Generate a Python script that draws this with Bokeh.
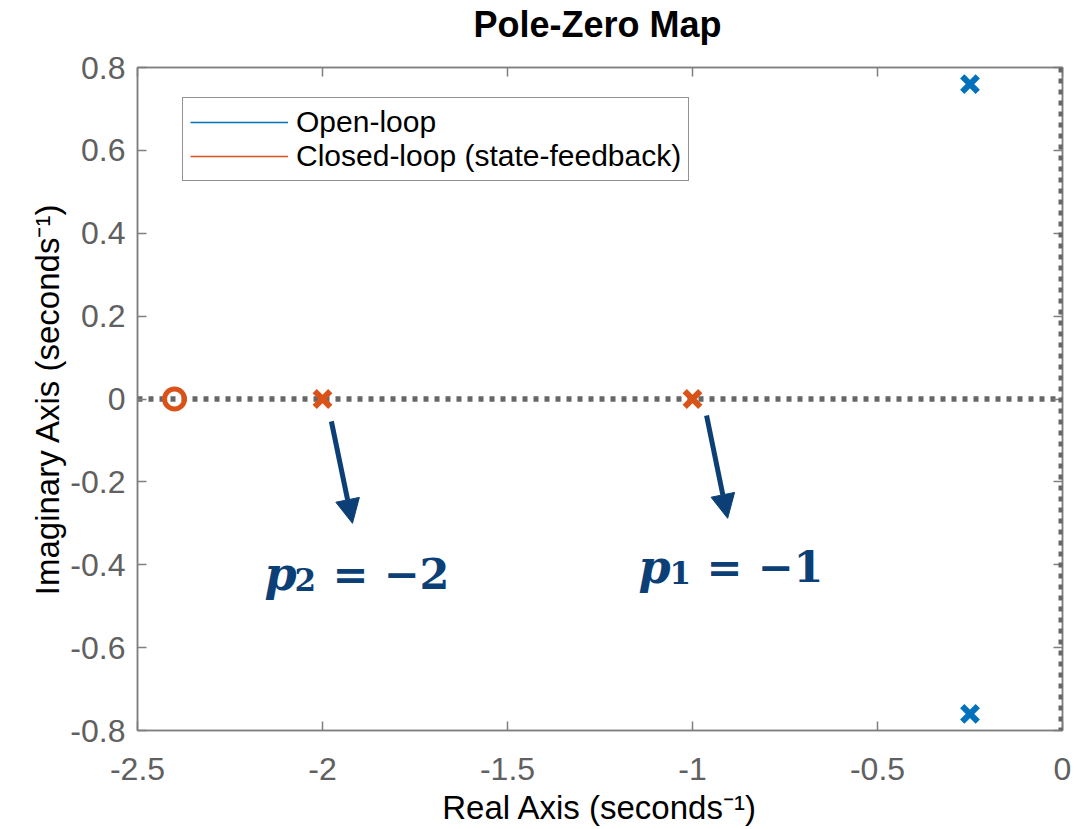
from bokeh.plotting import figure
from bokeh.layouts import column
from bokeh.models import (LinearAxis, Legend, LegendItem, Arrow, NormalHead, Label,
                          FixedTicker, Span, Range1d, Div)
from bokeh.embed import file_html
from bokeh.resources import INLINE

# ---------------- data ----------------
open_loop_real = [-0.25, -0.25]
open_loop_imag = [0.76, -0.76]
closed_pole_real = [-2.0, -1.0]
closed_pole_imag = [0.0, 0.0]
closed_zero_real = [-2.4]
closed_zero_imag = [0.0]

x_ticks = [-2.5, -2.0, -1.5, -1.0, -0.5, 0.0]
x_tick_labels = ["-2.5", "-2", "-1.5", "-1", "-0.5", "0"]
y_ticks = [-0.8, -0.6, -0.4, -0.2, 0.0, 0.2, 0.4, 0.6, 0.8]
y_tick_labels = ["-0.8", "-0.6", "-0.4", "-0.2", "0", "0.2", "0.4", "0.6", "0.8"]

title_text = "Pole-Zero Map"
legend_labels = ["Open-loop", "Closed-loop (state-feedback)"]

# annotations "p_k = value"
annot_sym = ["p", "p"]
annot_sub = ["2", "1"]
annot_values = ["= \u22122", "= \u22121"]
annot_sym_x = [-2.157, -1.146]
annot_sub_x = [-2.076, -1.062]
annot_value_x = [-1.973, -0.962]
annot_base_y = [-0.423, -0.406]
annot_sub_y = [-0.435, -0.418]
arrow_x_start = [-1.976, -0.962]
arrow_y_start = [-0.054, -0.040]
arrow_x_end = [-1.919, -0.905]
arrow_y_end = [-0.300, -0.288]

BLUE = "#0072BD"
ORANGE = "#D95319"
GRAY = "#7f7f7f"
TICKC = "#606060"
DARKBLUE = "#0b3f75"
FONT = "Liberation Sans"
TOTAL_W = 1083
TITLE_H = 50

title_div = Div(
    text=('<div style="width:%dpx;height:%dpx;line-height:%dpx;box-sizing:border-box;'
          'padding-left:112px;text-align:center;font-family:\'Liberation Sans\',sans-serif;'
          'font-size:36px;font-weight:bold;color:black;white-space:nowrap;">%s</div>'
          % (TOTAL_W, TITLE_H, TITLE_H, title_text)),
    width=TOTAL_W, height=TITLE_H, margin=0)

p = figure(frame_width=925, frame_height=663,
           x_range=Range1d(-2.5, 0.0), y_range=Range1d(-0.8, 0.8),
           output_backend="svg", toolbar_location=None, title=None,
           min_border_left=137, min_border_right=21, min_border_top=67 - TITLE_H,
           min_border_bottom=99,
           background_fill_color="white", border_fill_color="white")

p.xgrid.visible = False
p.ygrid.visible = False
p.outline_line_color = GRAY
p.outline_line_width = 1.5

def style_axis(ax, ticks, labels, show_labels=True):
    ax.ticker = FixedTicker(ticks=ticks)
    ax.major_label_overrides = {t: l for t, l in zip(ticks, labels)}
    ax.major_tick_in = 9
    ax.major_tick_out = 0
    ax.minor_tick_in = 0
    ax.minor_tick_out = 0
    ax.axis_line_color = GRAY
    ax.axis_line_width = 1.5
    ax.major_tick_line_color = GRAY
    ax.major_tick_line_width = 1.5
    ax.major_label_text_font = FONT
    ax.major_label_text_color = TICKC
    ax.axis_label_text_font = FONT
    ax.axis_label_text_font_style = "normal"
    ax.axis_label_text_color = "black"
    ax.axis_label_text_font_size = "33px"
    if show_labels:
        ax.major_label_text_font_size = "32px"
    else:
        # mirrored axis: ticks only, labels not drawn
        ax.major_label_text_font_size = "1px"
        ax.major_label_text_color = None
        ax.major_label_standoff = 0

xa = p.xaxis[0]
style_axis(xa, x_ticks, x_tick_labels)
xa.axis_label = "Real Axis (seconds\u207B\u00B9)"
xa.major_label_standoff = 27
xa.axis_label_standoff = 6

ya = p.yaxis[0]
style_axis(ya, y_ticks, y_tick_labels)
ya.axis_label = "Imaginary Axis (seconds\u207B\u00B9)"
ya.major_label_standoff = 12
ya.axis_label_standoff = 1

top = LinearAxis()
style_axis(top, x_ticks, x_tick_labels, show_labels=False)
p.add_layout(top, "above")
right = LinearAxis()
style_axis(right, y_ticks, y_tick_labels, show_labels=False)
p.add_layout(right, "right")

# dotted lines through the origin
p.add_layout(Span(location=0, dimension="width", line_color="#666666", line_width=5.5,
                  line_dash="5 6", level="underlay"))
p.add_layout(Span(location=0, dimension="height", line_color="#666666", line_width=8,
                  line_dash="5 6"))

# markers
p.scatter(open_loop_real, open_loop_imag, marker="x", size=22, line_width=6,
          line_color=BLUE)
p.scatter(closed_pole_real, closed_pole_imag, marker="x", size=22, line_width=6,
          line_color=ORANGE)
p.scatter(closed_zero_real, closed_zero_imag, marker="circle", size=20, line_width=5,
          line_color=ORANGE, fill_color=None)

# legend (line entries, no visible data)
nan = float("nan")
r_open = p.line([nan], [nan], line_color=BLUE, line_width=1.5)
r_closed = p.line([nan], [nan], line_color=ORANGE, line_width=1.5)
legend = Legend(items=[LegendItem(label=legend_labels[0], renderers=[r_open]),
                       LegendItem(label=legend_labels[1], renderers=[r_closed])],
                location=(45, 549), margin=0, padding=7, spacing=0,
                glyph_width=98, glyph_height=34, label_height=34, label_standoff=8,
                label_text_font=FONT, label_text_font_size="30px", label_text_color="black",
                border_line_color="#262626", border_line_width=1.2,
                background_fill_color="white", background_fill_alpha=1.0)
p.add_layout(legend)

# annotations
for i in range(len(annot_sym)):
    p.add_layout(Arrow(x_start=arrow_x_start[i], y_start=arrow_y_start[i],
                       x_end=arrow_x_end[i], y_end=arrow_y_end[i],
                       line_color=DARKBLUE, line_width=5,
                       end=NormalHead(size=24, fill_color=DARKBLUE, line_color=DARKBLUE,
                                      line_width=1)))
    p.add_layout(Label(x=annot_sym_x[i], y=annot_base_y[i], text=annot_sym[i],
                       text_font="DejaVu Serif", text_font_style="bold italic",
                       text_font_size="46px", text_color=DARKBLUE,
                       text_baseline="alphabetic", text_align="left"))
    p.add_layout(Label(x=annot_sub_x[i], y=annot_sub_y[i], text=annot_sub[i],
                       text_font="DejaVu Serif", text_font_style="bold",
                       text_font_size="31px", text_color=DARKBLUE,
                       text_baseline="alphabetic", text_align="left"))
    p.add_layout(Label(x=annot_value_x[i], y=annot_base_y[i], text=annot_values[i],
                       text_font="DejaVu Serif", text_font_style="bold",
                       text_font_size="43px", text_color=DARKBLUE,
                       text_baseline="alphabetic", text_align="left"))

layout = column(title_div, p, spacing=0)
open("out.html", "w").write(file_html(layout, INLINE))
